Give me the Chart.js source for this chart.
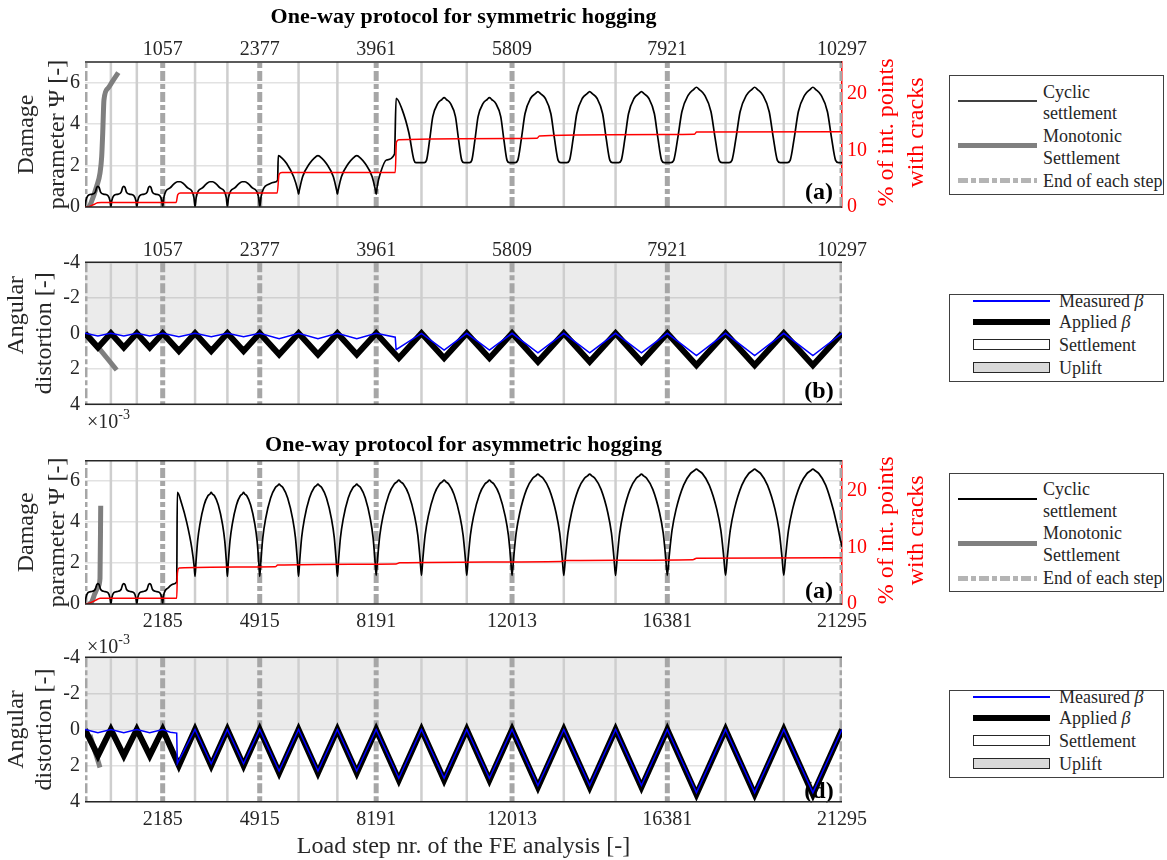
<!DOCTYPE html>
<html><head><meta charset="utf-8">
<script src="https://cdn.jsdelivr.net/npm/chart.js@4/dist/chart.umd.min.js"></script>
<style>
body{margin:0;background:#fff;width:1167px;height:860px;overflow:hidden;position:relative;font-family:'Liberation Serif',serif;}
canvas{position:absolute;left:0;}
.lg{position:absolute;left:949px;width:215px;border:1px solid #404040;box-sizing:border-box;background:#fff;}
.lg .t{position:absolute;font-size:18px;line-height:20px;color:#262626;white-space:nowrap;}
.lg .s{position:absolute;}
</style></head>
<body>
<canvas id="c1" width="940" height="225" style="top:0px"></canvas>
<canvas id="c2" width="940" height="205" style="top:225px"></canvas>
<canvas id="c3" width="940" height="200" style="top:430px"></canvas>
<canvas id="c4" width="940" height="230" style="top:630px"></canvas>

<div class="lg" style="top:75px;height:120px">
  <div class="s" style="left:8px;top:24px;width:79px;height:2px;background:#404040"></div>
  <div class="t" style="left:93px;top:6px">Cyclic</div>
  <div class="t" style="left:93px;top:27px">settlement</div>
  <div class="s" style="left:8px;top:67px;width:79px;height:5px;background:#808080"></div>
  <div class="t" style="left:93px;top:50px">Monotonic</div>
  <div class="t" style="left:93px;top:72px">Settlement</div>
  <svg class="s" style="left:8px;top:102px" width="79" height="5"><line x1="0" y1="2.5" x2="79" y2="2.5" stroke="#b4b4b4" stroke-width="5" stroke-dasharray="10 3 5 3"/></svg>
  <div class="t" style="left:93px;top:95px">End of each step</div>
</div>

<div class="lg" style="top:294px;height:88px">
  <div class="s" style="left:23px;top:5px;width:77px;height:1.5px;background:#0000ff"></div>
  <div class="t" style="left:109px;top:-4px">Measured <i>β</i></div>
  <div class="s" style="left:23px;top:24px;width:77px;height:6px;background:#000"></div>
  <div class="t" style="left:109px;top:17px">Applied <i>β</i></div>
  <div class="s" style="left:23px;top:44px;width:77px;height:11px;background:#fff;border:1px solid #262626;box-sizing:border-box"></div>
  <div class="t" style="left:109px;top:40px">Settlement</div>
  <div class="s" style="left:23px;top:67px;width:77px;height:11px;background:#d9d9d9;border:1px solid #262626;box-sizing:border-box"></div>
  <div class="t" style="left:109px;top:63px">Uplift</div>
</div>

<div class="lg" style="top:473px;height:119px">
  <div class="s" style="left:8px;top:24px;width:79px;height:2px;background:#000"></div>
  <div class="t" style="left:93px;top:5px">Cyclic</div>
  <div class="t" style="left:93px;top:27px">settlement</div>
  <div class="s" style="left:8px;top:67px;width:79px;height:5px;background:#808080"></div>
  <div class="t" style="left:93px;top:49px">Monotonic</div>
  <div class="t" style="left:93px;top:71px">Settlement</div>
  <svg class="s" style="left:8px;top:102px" width="79" height="5"><line x1="0" y1="2.5" x2="79" y2="2.5" stroke="#b4b4b4" stroke-width="5" stroke-dasharray="10 3 5 3"/></svg>
  <div class="t" style="left:93px;top:94px">End of each step</div>
</div>

<div class="lg" style="top:690px;height:88px">
  <div class="s" style="left:23px;top:5px;width:77px;height:1.5px;background:#0000ff"></div>
  <div class="t" style="left:109px;top:-4px">Measured <i>β</i></div>
  <div class="s" style="left:23px;top:24px;width:77px;height:6px;background:#000"></div>
  <div class="t" style="left:109px;top:17px">Applied <i>β</i></div>
  <div class="s" style="left:23px;top:44px;width:77px;height:11px;background:#fff;border:1px solid #262626;box-sizing:border-box"></div>
  <div class="t" style="left:109px;top:40px">Settlement</div>
  <div class="s" style="left:23px;top:67px;width:77px;height:11px;background:#d9d9d9;border:1px solid #262626;box-sizing:border-box"></div>
  <div class="t" style="left:109px;top:63px">Uplift</div>
</div>

<script>
// ---------------- DATA ----------------
// step ends (tick labels) and intermediate cycle ends
const symSteps   = [1057, 2377, 3961, 5809, 7921, 10297];
const symCycles  = [352, 705, 1497, 1937, 2905, 3433, 4577, 5193, 6513, 7217, 8713, 9505];
const asymSteps  = [2185, 4915, 8191, 12013, 16381, 21295];
const asymCycles = [728, 1457, 3095, 4005, 6007, 7099, 9465, 10739, 13469, 14925, 18019, 19657];

const psiTicks  = [0, 2, 4, 6];
const crackTicks = [0, 10, 20];
const betaTicks = [-4, -2, 0, 2, 4];

// symmetric hogging: damage parameter (cyclic)
const symPsi = [
 [0,0],[12,0.3],[40,0.55],[100,0.62],[140,0.72],[160,0.95],[176,1.0],[192,0.95],[212,0.72],[252,0.62],[312,0.55],[340,0.3],[352,0],
 [364,0.3],[392,0.55],[452,0.62],[492,0.72],[512,0.95],[528,1.0],[544,0.95],[564,0.72],[604,0.62],[664,0.55],[693,0.3],[705,0],
 [717,0.3],[745,0.55],[805,0.62],[845,0.72],[865,0.95],[881,1.0],[897,0.95],[917,0.72],[957,0.62],[1017,0.55],[1045,0.3],[1057,0],
 [1072,0.45],[1102,0.78],[1157,0.92],[1207,1.1],[1257,1.22],[1297,1.22],[1347,1.1],[1397,0.92],[1452,0.78],[1482,0.45],[1497,0],
 [1512,0.45],[1542,0.78],[1597,0.92],[1647,1.1],[1697,1.22],[1737,1.22],[1787,1.1],[1837,0.92],[1892,0.78],[1922,0.45],[1937,0],
 [1952,0.45],[1982,0.78],[2037,0.92],[2087,1.1],[2137,1.22],[2177,1.22],[2227,1.1],[2277,0.92],[2332,0.78],[2362,0.45],[2377,0],
 [2395,0.5],[2430,0.9],[2500,1.1],[2580,1.2],[2620,1.3],[2629,2.48],[2683,2.35],[2743,2.1],[2838,1.46],[2895,0.8],[2905,0.62],
 [2915,0.8],[2960,1.46],[3055,2.1],[3115,2.35],[3169,2.48],[3223,2.35],[3283,2.1],[3378,1.46],[3423,0.8],[3433,0.62],
 [3443,0.8],[3488,1.46],[3583,2.1],[3643,2.35],[3697,2.48],[3751,2.35],[3811,2.1],[3906,1.46],[3951,0.8],[3961,0.62],
 [3975,1.0],[4015,1.6],[4100,2.27],[4210,2.55],[4232,5.25],[4314,4.7],[4406,3.57],[4474,2.27],[4500,2.14],
 [4614,2.14],[4645,2.25],[4688,3.24],[4731,4.36],[4799,5.0],[4854,5.19],[4885,5.28],[4916,5.19],[4971,5.0],[5039,4.36],[5082,3.24],[5125,2.25],[5156,2.14],
 [5230,2.14],[5261,2.25],[5304,3.24],[5347,4.36],[5415,5.0],[5470,5.19],[5501,5.28],[5532,5.19],[5587,5.0],[5655,4.36],[5698,3.24],[5741,2.25],[5772,2.14],
 [5851,2.14],[5886,2.25],[5936,3.3],[5985,4.5],[6062,5.25],[6126,5.47],[6161,5.57],[6196,5.47],[6260,5.25],[6337,4.5],[6386,3.3],[6436,2.25],[6471,2.14],
 [6555,2.14],[6590,2.25],[6640,3.3],[6689,4.5],[6766,5.25],[6830,5.47],[6865,5.57],[6900,5.47],[6964,5.25],[7041,4.5],[7090,3.3],[7140,2.25],[7175,2.14],
 [7259,2.14],[7294,2.25],[7344,3.3],[7393,4.5],[7470,5.25],[7534,5.47],[7569,5.57],[7604,5.47],[7668,5.25],[7745,4.5],[7794,3.3],[7844,2.25],[7879,2.14],
 [7969,2.14],[8008,2.25],[8064,3.35],[8119,4.6],[8206,5.4],[8277,5.67],[8317,5.78],[8357,5.67],[8428,5.4],[8515,4.6],[8570,3.35],[8626,2.25],[8665,2.14],
 [8761,2.14],[8800,2.25],[8856,3.35],[8911,4.6],[8998,5.4],[9069,5.67],[9109,5.78],[9149,5.67],[9220,5.4],[9307,4.6],[9362,3.35],[9418,2.25],[9457,2.14],
 [9553,2.14],[9592,2.25],[9648,3.35],[9703,4.6],[9790,5.4],[9861,5.67],[9901,5.78],[9941,5.67],[10012,5.4],[10099,4.6],[10154,3.35],[10210,2.25],[10249,2.14],[10297,2.14]
];
const symPsiMono = [[54,0],[82,0.2],[159,1.0],[204,1.64],[227,2.43],[241,3.57],[258,5.17],[313,5.73],[385,6.13],[453,6.49]];
const symCracks = [[0,0],[60,0.1],[120,0.45],[170,0.75],[220,0.8],[1240,0.8],[1262,2.2],[1300,2.5],[2615,2.5],[2640,5.8],[2680,6.1],
 [4220,6.1],[4236,11.5],[4270,11.9],[5800,12.15],[6150,12.2],[6180,12.6],[7900,12.85],[8290,12.9],[8320,13.3],[10297,13.35]];
const symApplied = [[0,0],[176,0.8],[352,0],[528,0.8],[705,0],[881,0.8],[1057,0],[1277,1.0],[1497,0],[1717,1.0],[1937,0],[2157,1.0],
 [2377,0],[2641,1.2],[2905,0],[3169,1.2],[3433,0],[3697,1.2],[3961,0],[4269,1.4],[4577,0],[4885,1.4],[5193,0],[5501,1.4],
 [5809,0],[6161,1.6],[6513,0],[6865,1.6],[7217,0],[7569,1.6],[7921,0],[8317,1.8],[8713,0],[9109,1.8],[9505,0],[9901,1.8],[10297,0]];
const symMeasured = [[0,0],[176,0.15],[352,0],[528,0.15],[705,0],[881,0.15],[1057,0],[1277,0.2],[1497,0],[1717,0.2],[1937,0],[2157,0.2],
 [2377,0],[2641,0.3],[2905,0],[3169,0.3],[3433,0],[3697,0.3],[3961,0],[4220,0.22],[4232,0.92],[4577,0],[4885,0.95],[5193,0],[5501,0.95],
 [5809,0],[6161,1.1],[6513,0],[6865,1.1],[7217,0],[7569,1.1],[7921,0],[8317,1.25],[8713,0],[9109,1.25],[9505,0],[9901,1.25],[10297,0]];
const symBetaMono = [[45,0.1],[431,2.07]];

// asymmetric hogging
const asymPsi = [
 [0,0],[25,0.3],[83,0.55],[207,0.62],[290,0.72],[331,0.95],[364,1.0],[397,0.95],[438,0.72],[521,0.62],[645,0.55],[703,0.3],[728,0],
 [753,0.3],[811,0.55],[935,0.62],[1018,0.72],[1059,0.95],[1092,1.0],[1125,0.95],[1166,0.72],[1249,0.62],[1373,0.55],[1431,0.3],[1457,0],
 [1482,0.3],[1540,0.55],[1664,0.62],[1747,0.72],[1788,0.95],[1821,1.0],[1854,0.95],[1895,0.72],[1978,0.62],[2102,0.55],[2160,0.3],[2185,0],
 [2203,0.36],[2335,0.78],[2484,0.97],[2580,1.08],[2597,5.45],[2720,4.9],[2860,4.0],[3000,2.78],[3073,1.81],[3095,1.35],
 [3122,2.05],[3168,3.07],[3232,3.89],[3350,4.84],[3459,5.29],[3514,5.37],[3550,5.45],[3586,5.37],[3641,5.29],[3750,4.84],[3869,3.89],[3932,3.07],[3978,2.05],[4005,1.35],
 [4032,2.05],[4078,3.07],[4142,3.89],[4260,4.84],[4369,5.29],[4424,5.37],[4460,5.45],[4496,5.37],[4551,5.29],[4660,4.84],[4779,3.89],[4842,3.07],[4888,2.05],[4915,1.35],
 [4948,2.12],[5002,3.24],[5079,4.15],[5221,5.18],[5352,5.68],[5417,5.78],[5461,5.86],[5505,5.78],[5570,5.68],[5701,5.18],[5843,4.15],[5920,3.24],[5974,2.12],[6007,1.35],
 [6040,2.12],[6094,3.24],[6171,4.15],[6313,5.18],[6444,5.68],[6509,5.78],[6553,5.86],[6597,5.78],[6662,5.68],[6793,5.18],[6935,4.15],[7012,3.24],[7066,2.12],[7099,1.35],
 [7132,2.12],[7186,3.24],[7263,4.15],[7405,5.18],[7536,5.68],[7601,5.78],[7645,5.86],[7689,5.78],[7754,5.68],[7885,5.18],[8027,4.15],[8104,3.24],[8158,2.12],[8191,1.4],
 [8229,2.19],[8293,3.35],[8382,4.28],[8548,5.35],[8701,5.86],[8777,5.97],[8828,6.05],[8879,5.97],[8955,5.86],[9108,5.35],[9274,4.28],[9363,3.35],[9427,2.19],[9465,1.4],
 [9503,2.19],[9567,3.35],[9656,4.28],[9822,5.35],[9975,5.86],[10051,5.97],[10102,6.05],[10153,5.97],[10229,5.86],[10382,5.35],[10548,4.28],[10637,3.35],[10701,2.19],[10739,1.4],
 [10777,2.19],[10841,3.35],[10930,4.28],[11096,5.35],[11249,5.86],[11325,5.97],[11376,6.05],[11427,5.97],[11503,5.86],[11656,5.35],[11822,4.28],[11911,3.35],[11975,2.19],[12013,1.4],
 [12057,2.24],[12129,3.47],[12231,4.46],[12421,5.6],[12595,6.14],[12683,6.26],[12741,6.34],[12799,6.26],[12887,6.14],[13061,5.6],[13251,4.46],[13353,3.47],[13425,2.24],[13469,1.4],
 [13513,2.24],[13585,3.47],[13687,4.46],[13877,5.6],[14051,6.14],[14139,6.26],[14197,6.34],[14255,6.26],[14343,6.14],[14517,5.6],[14707,4.46],[14809,3.47],[14881,2.24],[14925,1.4],
 [14969,2.24],[15041,3.47],[15143,4.46],[15333,5.6],[15507,6.14],[15595,6.26],[15653,6.34],[15711,6.26],[15799,6.14],[15973,5.6],[16163,4.46],[16265,3.47],[16337,2.24],[16381,1.4],
 [16430,2.28],[16512,3.58],[16627,4.62],[16840,5.81],[17036,6.38],[17134,6.51],[17200,6.59],[17266,6.51],[17364,6.38],[17560,5.81],[17773,4.62],[17888,3.58],[17970,2.28],[18019,1.4],
 [18068,2.28],[18150,3.58],[18265,4.62],[18478,5.81],[18674,6.38],[18772,6.51],[18838,6.59],[18904,6.51],[19002,6.38],[19198,5.81],[19411,4.62],[19526,3.58],[19608,2.28],[19657,1.4],
 [19706,2.28],[19788,3.58],[19903,4.62],[20116,5.81],[20312,6.38],[20410,6.51],[20476,6.59],[20542,6.51],[20640,6.38],[20836,5.81],[21049,4.62],[21200,3.5],[21295,2.8]
];
const asymPsiMono = [[110,0],[188,0.1],[281,0.52],[374,0.84],[422,1.25],[442,4.8]];
const asymCracks = [[0,0],[120,0.15],[250,0.5],[350,0.85],[430,1.0],[2580,1.0],[2600,5.5],[2650,6.4],[5350,6.6],[5420,6.9],
 [8750,7.1],[8850,7.3],[13400,7.55],[13500,7.7],[17100,7.85],[17200,8.1],[21295,8.2]];
const asymApplied = [[0,0],[364,1.45],[728,0],[1092,1.45],[1457,0],[1821,1.45],[2185,0],[2640,2.0],[3095,0],[3550,2.0],[4005,0],[4460,2.0],
 [4915,0],[5461,2.4],[6007,0],[6553,2.4],[7099,0],[7645,2.4],[8191,0],[8828,2.8],[9465,0],[10102,2.8],[10739,0],[11376,2.8],
 [12013,0],[12741,3.2],[13469,0],[14197,3.2],[14925,0],[15653,3.2],[16381,0],[17200,3.6],[18019,0],[18838,3.6],[19657,0],[20476,3.6],[21295,0]];
const asymMeasured = [[0,0],[364,0.18],[728,0],[1092,0.18],[1457,0],[1821,0.18],[2185,0],[2400,0.15],[2580,0.2],[2597,1.88],[3095,0],
 [3550,1.9],[4005,0],[4460,1.9],[4915,0],[5461,2.3],[6007,0],[6553,2.3],[7099,0],[7645,2.3],[8191,0],[8828,2.7],[9465,0],[10102,2.7],
 [10739,0],[11376,2.7],[12013,0],[12741,3.1],[13469,0],[14197,3.1],[14925,0],[15653,3.1],[16381,0],[17200,3.5],[18019,0],[18838,3.5],
 [19657,0],[20476,3.5],[21295,0]];
const asymBetaMono = [[140,0.3],[422,2.1]];

// ---------------- RENDERING ----------------
const F = 'Liberation Serif';
const TXT = '#262626';

function vlines(xs, y0, y1) {
  const d = [];
  xs.forEach(x => { d.push([x, y0], [x, y1], [x, null]); });
  return d;
}

const decor = {
  id: 'decor',
  beforeDatasetsDraw(chart, args, o) {
    const ctx = chart.ctx;
    if (o.label) {
      ctx.save();
      ctx.font = 'bold 24px "' + F + '"';
      ctx.fillStyle = '#000';
      ctx.textAlign = 'center';
      ctx.textBaseline = 'middle';
      ctx.fillText(o.label[0], o.label[1], o.label[2]);
      ctx.restore();
    }
  },
  afterDatasetsDraw(chart, args, o) {
    const ctx = chart.ctx, a = chart.chartArea;
    ctx.save();
    ctx.strokeStyle = TXT; ctx.lineWidth = 1.5;
    ctx.beginPath();
    ctx.moveTo(a.left, a.top); ctx.lineTo(a.right, a.top);
    ctx.moveTo(a.left, a.bottom); ctx.lineTo(a.right, a.bottom);
    ctx.stroke();
    if (o.title) {
      ctx.font = 'bold 22px "' + F + '"';
      ctx.fillStyle = '#000'; ctx.textAlign = 'center'; ctx.textBaseline = 'middle';
      ctx.fillText(o.title[0], (a.left + a.right) / 2, o.title[1]);
    }
    if (o.red) {
      ctx.font = '24px "' + F + '"';
      ctx.fillStyle = '#ff0000'; ctx.textAlign = 'center'; ctx.textBaseline = 'middle';
      const cy = (a.top + a.bottom) / 2 - 2;
      [['% of int. points', 887], ['with cracks', 917]].forEach(([t, x]) => {
        ctx.save(); ctx.translate(x, cy); ctx.rotate(-Math.PI / 2); ctx.fillText(t, 0, 0); ctx.restore();
      });
    }
    if (o.x10) {
      ctx.font = '20px "' + F + '"';
      ctx.fillStyle = TXT; ctx.textAlign = 'left'; ctx.textBaseline = 'middle';
      ctx.fillText('×10', 87, o.x10);
      const w = ctx.measureText('×10').width;
      ctx.font = '14px "' + F + '"';
      ctx.fillText('-3', 87 + w, o.x10 - 8);
    }
    ctx.restore();
  }
};

function xAxis(max, ticks, pos, height, title) {
  return {
    type: 'linear', position: pos, min: 0, max: max,
    afterBuildTicks: s => { s.ticks = ticks.map(v => ({ value: v })); },
    afterFit: s => { s.height = height; },
    ticks: { font: { family: F, size: 20 }, color: TXT, padding: pos === 'top' ? 0 : 6, maxRotation: 0, autoSkip: false, callback: v => String(v) },
    grid: { display: false, drawTicks: false },
    border: { display: false },
    title: title ? { display: true, text: title, color: TXT, font: { family: F, size: 24, lineHeight: 1.1 }, padding: { top: 0, bottom: 0 } } : { display: false }
  };
}
function yLeft(min, max, ticks, title, pad, lh, reverse) {
  return {
    type: 'linear', position: 'left', min: min, max: max, reverse: !!reverse,
    afterBuildTicks: s => { s.ticks = ticks.map(v => ({ value: v })); },
    afterFit: s => { s.width = 85; },
    ticks: { font: { family: F, size: 20 }, color: TXT, padding: 5, callback: v => String(v) },
    grid: { color: '#e2e2e2', lineWidth: 1.5, drawTicks: false },
    border: { display: false },
    title: { display: true, text: title, color: TXT, font: { family: F, size: 24, lineHeight: lh }, padding: { top: pad, bottom: 0 } }
  };
}
function yRed(max) {
  return {
    type: 'linear', position: 'right', min: 0, max: max,
    afterBuildTicks: s => { s.ticks = crackTicks.map(v => ({ value: v })); },
    afterFit: s => { s.width = 98; },
    ticks: { font: { family: F, size: 20 }, color: '#ff0000', padding: 5, callback: v => String(v) },
    grid: { display: false, drawTicks: false },
    border: { display: true, color: '#ff0000', width: 1.5 }
  };
}
function boundaryDatasets(steps, cycles, y0, y1) {
  return [
    { data: vlines(cycles, y0, y1), borderColor: '#cecece', borderWidth: 2.5, pointRadius: 0, order: 9 },
    { data: vlines([0].concat(steps), y0, y1), borderColor: '#a6a6a6', borderWidth: 5, borderDash: [10, 3, 5, 3], pointRadius: 0, order: 8 }
  ];
}
function baseOptions(scales, padding, decorOpts) {
  return {
    responsive: false, animation: false, devicePixelRatio: 1,
    layout: { padding: padding },
    scales: scales,
    plugins: { legend: { display: false }, tooltip: { enabled: false }, decor: decorOpts },
    elements: { point: { radius: 0 } }
  };
}

// Chart 1: symmetric, damage
new Chart(document.getElementById('c1'), {
  type: 'line',
  data: { datasets: boundaryDatasets(symSteps, symCycles, 0, 7).concat([
    { data: symPsiMono, borderColor: '#7f7f7f', borderWidth: 5, pointRadius: 0, cubicInterpolationMode: 'monotone', order: 4 },
    { data: symPsi, borderColor: '#000', borderWidth: 1.7, pointRadius: 0, cubicInterpolationMode: 'monotone', order: 3 },
    { data: symCracks, yAxisID: 'y2', borderColor: '#ff0000', borderWidth: 1.5, pointRadius: 0, cubicInterpolationMode: 'monotone', order: 1 }
  ]) },
  options: baseOptions({
    x: xAxis(10297, symSteps, 'top', 62),
    y: yLeft(0, 7, psiTicks, ['Damage', 'parameter Ψ [-]'], 11, 1.3),
    y2: yRed(25.7)
  }, { left: 0, right: 0, top: 0, bottom: 18 },
  { title: ['One-way protocol for symmetric hogging', 17], red: true, label: ['(a)', 819, 193] }),
  plugins: [decor]
});

// Chart 2: symmetric, angular distortion
new Chart(document.getElementById('c2'), {
  type: 'line',
  data: { datasets: [
    { data: [[0, -4], [10297, -4]], borderWidth: 0, backgroundColor: 'rgba(0,0,0,0.08)', fill: { value: 0 }, pointRadius: 0, order: 10 }
  ].concat(boundaryDatasets(symSteps, symCycles, -4, 4)).concat([
    { data: symBetaMono, borderColor: '#7f7f7f', borderWidth: 5, pointRadius: 0, order: 4 },
    { data: symApplied, borderColor: '#000', borderWidth: 6, borderJoinStyle: 'miter', pointRadius: 0, order: 3 },
    { data: symMeasured, borderColor: '#0000ff', borderWidth: 1.5, pointRadius: 0, order: 1 }
  ]) },
  options: baseOptions({
    x: xAxis(10297, symSteps, 'top', 37.3),
    y: yLeft(-4, 4, betaTicks, ['      Angular', 'distortion [-]'], 2, 1.2, true)
  }, { left: 0, right: 98, top: 0, bottom: 25.7 },
  { label: ['(b)', 819, 166.7], x10: 198 }),
  plugins: [decor]
});

// Chart 3: asymmetric, damage
new Chart(document.getElementById('c3'), {
  type: 'line',
  data: { datasets: boundaryDatasets(asymSteps, asymCycles, 0, 7).concat([
    { data: asymPsiMono, borderColor: '#7f7f7f', borderWidth: 5, pointRadius: 0, cubicInterpolationMode: 'monotone', order: 4 },
    { data: asymPsi, borderColor: '#000', borderWidth: 1.7, pointRadius: 0, cubicInterpolationMode: 'monotone', order: 3 },
    { data: asymCracks, yAxisID: 'y2', borderColor: '#ff0000', borderWidth: 1.5, pointRadius: 0, cubicInterpolationMode: 'monotone', order: 1 }
  ]) },
  options: baseOptions({
    x: xAxis(21295, asymSteps, 'bottom', 26),
    y: yLeft(0, 7, psiTicks, ['Damage', 'parameter Ψ [-]'], 11, 1.3),
    y2: yRed(25.4)
  }, { left: 0, right: 0, top: 30.7, bottom: 0 },
  { title: ['One-way protocol for asymmetric hogging', 15], red: true, label: ['(a)', 819, 161.7] }),
  plugins: [decor]
});

// Chart 4: asymmetric, angular distortion
new Chart(document.getElementById('c4'), {
  type: 'line',
  data: { datasets: [
    { data: [[0, -4], [21295, -4]], borderWidth: 0, backgroundColor: 'rgba(0,0,0,0.08)', fill: { value: 0 }, pointRadius: 0, order: 10 }
  ].concat(boundaryDatasets(asymSteps, asymCycles, -4, 4)).concat([
    { data: asymBetaMono, borderColor: '#7f7f7f', borderWidth: 5, pointRadius: 0, order: 4 },
    { data: asymApplied, borderColor: '#000', borderWidth: 6, borderJoinStyle: 'miter', pointRadius: 0, order: 3 },
    { data: asymMeasured, borderColor: '#0000ff', borderWidth: 1.5, pointRadius: 0, order: 1 }
  ]) },
  options: baseOptions({
    x: xAxis(21295, asymSteps, 'bottom', 58.3, 'Load step nr. of the FE analysis [-]'),
    y: yLeft(-4, 4, betaTicks, ['Angular', 'distortion [-]'], 2, 1.2, true)
  }, { left: 0, right: 98, top: 27.3, bottom: 0 },
  { label: ['(d)', 819, 161.7], x10: 18 }),
  plugins: [decor]
});
</script>
</body></html>
